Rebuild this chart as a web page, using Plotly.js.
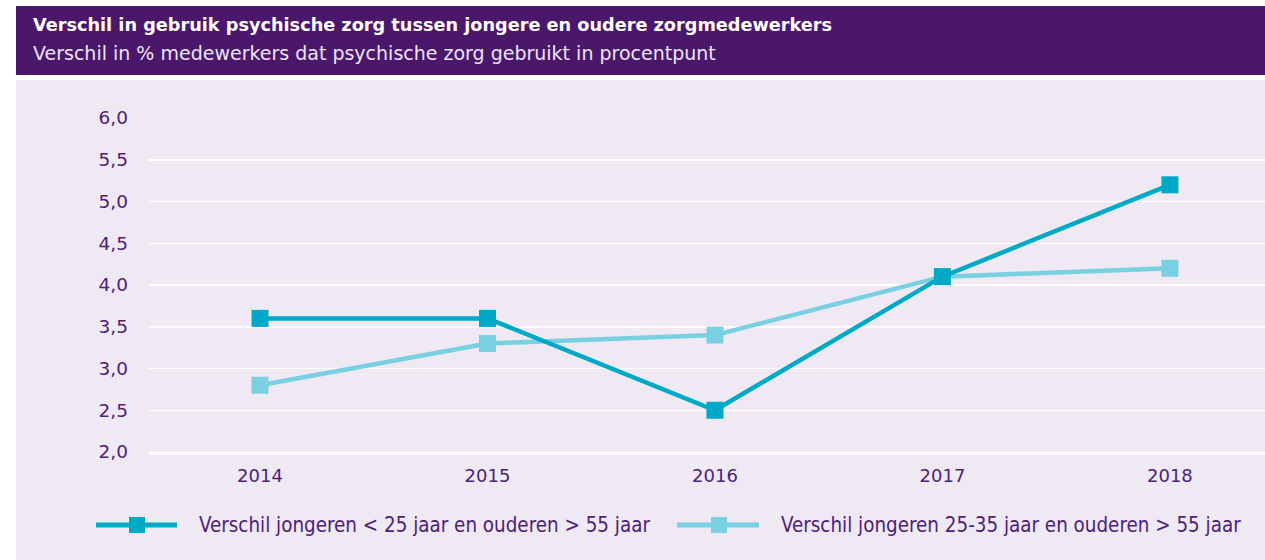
<!DOCTYPE html>
<html>
<head>
<meta charset="utf-8">
<script src="https://cdn.plot.ly/plotly-3.0.1.min.js"></script>
<style>
html,body{margin:0;padding:0;background:#ffffff;}
#chart{width:1265px;height:560px;}
</style>
</head>
<body>
<div id="chart"></div>
<script>
const years = [2014, 2015, 2016, 2017, 2018];
const seriesNames = [
  "Verschil jongeren < 25 jaar en ouderen > 55 jaar",
  "Verschil jongeren 25-35 jaar en ouderen > 55 jaar"
];
const jongerDan25 = [3.6, 3.6, 2.5, 4.1, 5.2];
const jongeren25tot35 = [2.8, 3.3, 3.4, 4.1, 4.2];
const yTicks = [2.0, 2.5, 3.0, 3.5, 4.0, 4.5, 5.0, 5.5, 6.0];
const titleText = "Verschil in gebruik psychische zorg tussen jongere en oudere zorgmedewerkers";
const subtitleText = "Verschil in % medewerkers dat psychische zorg gebruikt in procentpunt";

const W = 1265, H = 560;
const M = {l: 149, r: 0, t: 118, b: 108};
const PW = W - M.l - M.r, PH = H - M.t - M.b;
const px = x => (x - M.l) / PW;
const py = y => 1 - (y - M.t) / PH;

const dark = "#00a9c6";
const light = "#79d0e0";
const purple = "#4b176b";
const textPurple = "#4e2178";
const font = "'DejaVu Sans', sans-serif";
const condFont = "'DejaVu Sans Condensed', 'DejaVu Sans', sans-serif";

const traces = [
  {x: years, y: jongerDan25, name: seriesNames[0], type: "scatter", mode: "lines+markers",
   line: {color: dark, width: 4.5}, marker: {symbol: "square", size: 17, color: dark},
   cliponaxis: false, showlegend: false},
  {x: years, y: jongeren25tot35, name: seriesNames[1], type: "scatter", mode: "lines+markers",
   line: {color: light, width: 4.5}, marker: {symbol: "square", size: 17, color: light},
   cliponaxis: false, showlegend: false}
];
traces.reverse();

const legendItems = [
  {x0: 96, x1: 177, mx: 137, tx: 197, color: dark, text: seriesNames[0]},
  {x0: 677, x1: 759, mx: 719, tx: 779, color: light, text: seriesNames[1]}
];
const legY = 525;

const shapes = [
  {type: "rect", xref: "paper", yref: "paper", x0: px(16), x1: px(1265), y0: py(6), y1: py(75),
   fillcolor: purple, line: {width: 0}, layer: "below"},
  {type: "rect", xref: "paper", yref: "paper", x0: px(16), x1: px(1265), y0: py(80), y1: py(560),
   fillcolor: "#efe9f4", line: {width: 0}, layer: "below"}
];
legendItems.forEach(it => {
  shapes.push({type: "line", xref: "paper", yref: "paper", x0: px(it.x0), x1: px(it.x1),
    y0: py(legY), y1: py(legY), line: {color: it.color, width: 5}});
  shapes.push({type: "rect", xref: "paper", yref: "paper", x0: px(it.mx - 8), x1: px(it.mx + 8),
    y0: py(legY - 8), y1: py(legY + 8), fillcolor: it.color, line: {width: 0}});
});

const annotations = [
  {xref: "paper", yref: "paper", x: px(31), y: py(53), xanchor: "left", yanchor: "middle",
   text: subtitleText, showarrow: false, font: {family: font, size: 19, color: "#ece4f3"}}
];
legendItems.forEach(it => {
  annotations.push({xref: "paper", yref: "paper", x: px(it.tx), y: py(legY), xanchor: "left",
    yanchor: "middle", text: it.text.replace(/</g, "&lt;").replace(/>/g, "&gt;"), showarrow: false,
    font: {family: condFont, size: 20.4, color: textPurple}});
});

const layout = {
  width: W, height: H,
  margin: M,
  paper_bgcolor: "rgba(0,0,0,0)",
  plot_bgcolor: "rgba(0,0,0,0)",
  separators: ",.",
  font: {family: font, color: textPurple},
  title: {text: "<b>" + titleText + "</b>", xref: "container", x: 33 / W,
          xanchor: "left", y: 1 - 25 / H, yanchor: "middle",
          font: {family: font, size: 17.7, color: "#ffffff"}},
  showlegend: false,
  xaxis: {range: [2013.512, 2018.418], tickvals: years, ticktext: years.map(String),
          showgrid: false, zeroline: false, showline: true, linecolor: "#ffffff", linewidth: 3,
          ticks: "", ticklabelstandoff: 5, tickfont: {size: 18, color: textPurple}, fixedrange: true},
  yaxis: {range: [2, 6], tickvals: yTicks, tickformat: ".1f", showgrid: true, gridcolor: "#ffffff",
          gridwidth: 1.5, zeroline: false, showline: false, ticks: "", ticklabelstandoff: 20,
          tickfont: {size: 18.5, color: textPurple}, fixedrange: true},
  shapes: shapes,
  annotations: annotations
};

Plotly.newPlot("chart", traces, layout, {displayModeBar: false, staticPlot: true});
</script>
</body>
</html>
